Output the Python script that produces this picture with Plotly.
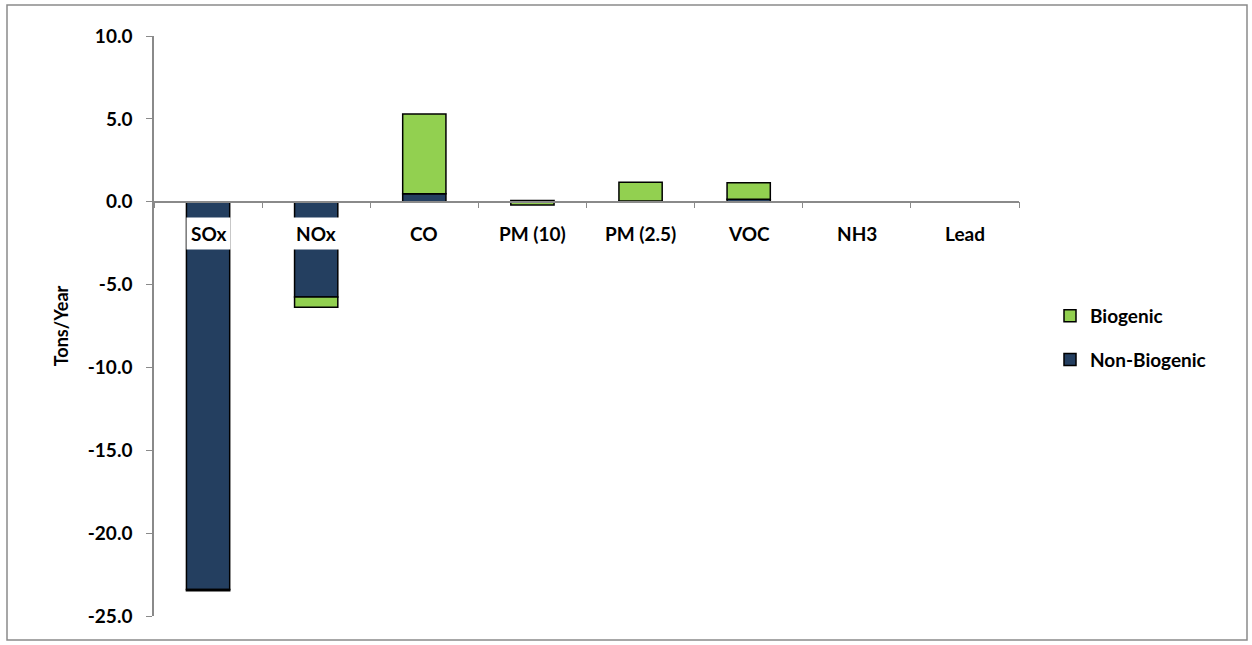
import plotly.graph_objects as go

categories = ["SOx", "NOx", "CO", "PM (10)", "PM (2.5)", "VOC", "NH3", "Lead"]
non_biogenic = [-23.4, -5.75, 0.48, 0.08, 0.05, 0.15, 0.0, 0.0]
biogenic = [-0.08, -0.62, 4.82, -0.2, 1.12, 1.0, 0.0, 0.0]
y_tickvals = [10, 5, 0, -5, -10, -15, -20, -25]
y_ticktext = ["10.0", "5.0", "0.0", "-5.0", "-10.0", "-15.0", "-20.0", "-25.0"]

FONT = "Lato"
W, H = 1252, 645
ML, MR, MT, MB = 154, 233, 36, 29
plot_w = W - ML - MR
plot_h = H - MT - MB
ymin, ymax = -25, 10
zero_frac = (0 - ymin) / (ymax - ymin)

fig = go.Figure()
fig.add_trace(go.Bar(
    x=categories, y=non_biogenic, name="Non-Biogenic",
    marker=dict(color="#243F60", line=dict(color="black", width=1.5)),
    width=0.4, legendgroup="nb", legendrank=2,
))
fig.add_trace(go.Bar(
    x=categories, y=biogenic, name="Biogenic",
    marker=dict(color="#92D050", line=dict(color="black", width=1.5)),
    width=0.4, legendgroup="b", legendrank=1,
))

for c in categories:
    fig.add_annotation(
        x=c, y=0, xref="x", yref="y", text="<b>" + c + "</b>",
        showarrow=False, yanchor="top", yshift=-15,
        font=dict(family=FONT, size=19, color="black"),
        bgcolor="white", borderpad=4,
    )

# outer chart border
fig.add_shape(
    type="rect", xref="paper", yref="paper",
    x0=(7 - ML) / plot_w, x1=(1247 - ML) / plot_w,
    y0=1 - (640 - MT) / plot_h, y1=1 - (5 - MT) / plot_h,
    line=dict(color="#8a8a8a", width=1.5), layer="below",
)

fig.update_layout(
    width=W, height=H,
    margin=dict(l=ML, r=MR, t=MT, b=MB),
    paper_bgcolor="white", plot_bgcolor="white",
    barmode="relative",
    showlegend=True,
    legend=dict(
        x=(1050 - ML) / plot_w, y=1 - (338 - MT) / plot_h,
        xanchor="left", yanchor="middle",
        traceorder="grouped", tracegroupgap=16,
        font=dict(family=FONT, size=19, color="black", weight="bold"),
        bgcolor="rgba(0,0,0,0)",
    ),
    font=dict(family=FONT, color="black"),
    xaxis=dict(
        range=[-0.5, 7.5], anchor="free", position=zero_frac,
        showline=True, linecolor="#8a8a8a", linewidth=1.5,
        ticks="outside", tickson="boundaries", ticklen=6, tickcolor="#8a8a8a",
        showticklabels=False, showgrid=False, zeroline=False,
    ),
    yaxis=dict(
        range=[ymin, ymax], tickvals=y_tickvals, ticktext=y_ticktext,
        showline=True, linecolor="#8a8a8a", linewidth=1.5,
        ticks="outside", ticklen=6, tickcolor="#8a8a8a",
        showgrid=False, zeroline=False,
        tickfont=dict(family=FONT, size=19, color="black", weight="bold"),
        ticklabelstandoff=10,
        title=dict(text="Tons/Year", font=dict(family=FONT, size=18, color="black", weight="bold"), standoff=14),
    ),
)

fig.write_html("out.html")
